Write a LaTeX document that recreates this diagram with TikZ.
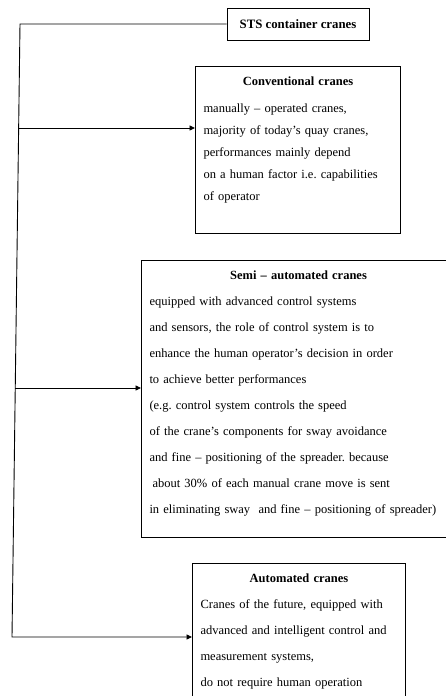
\documentclass[tikz,border=0pt]{standalone}
\usepackage{fontspec}
\setmainfont{Liberation Serif}
\usetikzlibrary{arrows.meta,positioning,calc}
\frenchspacing
\begin{document}
\begin{tikzpicture}[
  x=1pt,y=-1pt,
  line cap=butt,line join=miter,
  cranebox/.style={draw,line width=1pt,anchor=north west,align=left,
                   inner xsep=8pt,inner ysep=6pt,text height=12.5pt,fill=white},
  headbox/.style={draw,line width=1pt,minimum width=142pt,minimum height=32pt,
                  inner sep=2pt,font=\fontsize{12.8}{15}\selectfont\bfseries},
  link/.style={line width=.9pt},
  arrow/.style={link,-{Triangle[length=5.5pt,width=5pt]}}
]
\useasboundingbox[fill=white] (0,0) rectangle (445,696);
\node[headbox] (sts) at (298,24) {STS container cranes};
\node[cranebox,text width=189pt,text depth=142.5pt,
      font=\fontsize{12.5}{22}\selectfont] (conv) at (195,66)
  {\centering\textbf{Conventional cranes}\par\vspace{5pt}\raggedright
   manually -- operated cranes,\\
   majority of today's quay cranes,\\
   performances mainly depend\\
   on a human factor i.e. capabilities\\
   of operator};
\node[cranebox,text width=298pt,text depth=252.5pt,
      font=\fontsize{12.5}{26}\selectfont] (semi) at (141,260)
  {\centering\textbf{Semi -- automated cranes}\par\raggedright
   equipped with advanced control systems\\
   and sensors, the role of control system is to\\
   enhance the human operator's decision in order\\
   to achieve better performances\\
   (e.g. control system controls the speed\\
   of the crane's components for sway avoidance\\
   and fine -- positioning of the spreader. because\\
   \hspace*{3pt}about 30\% of each manual crane move is sent\\
   in eliminating sway\ \ and fine -- positioning of spreader)};
\node[cranebox,text width=197pt,text depth=200pt,
      font=\fontsize{12.5}{26}\selectfont] (auto) at (192,563)
  {\centering\textbf{Automated cranes}\par\raggedright
   Cranes of the future, equipped with\\
   advanced and intelligent control and\\
   measurement systems,\\
   do not require human operation};
% trunk on the left
\coordinate (trunktop) at (20,24);
\coordinate (trunkbot) at (12,637);
\coordinate (j1) at (18.6,128);
\coordinate (j2) at (15.3,388);
\draw[arrow] (sts.west) -- (trunktop) -- (trunkbot) -- (auto.west |- trunkbot);
\draw[arrow] (j1) -- (conv.west |- j1);
\draw[arrow] (j2) -- (semi.west |- j2);
\end{tikzpicture}
\end{document}
